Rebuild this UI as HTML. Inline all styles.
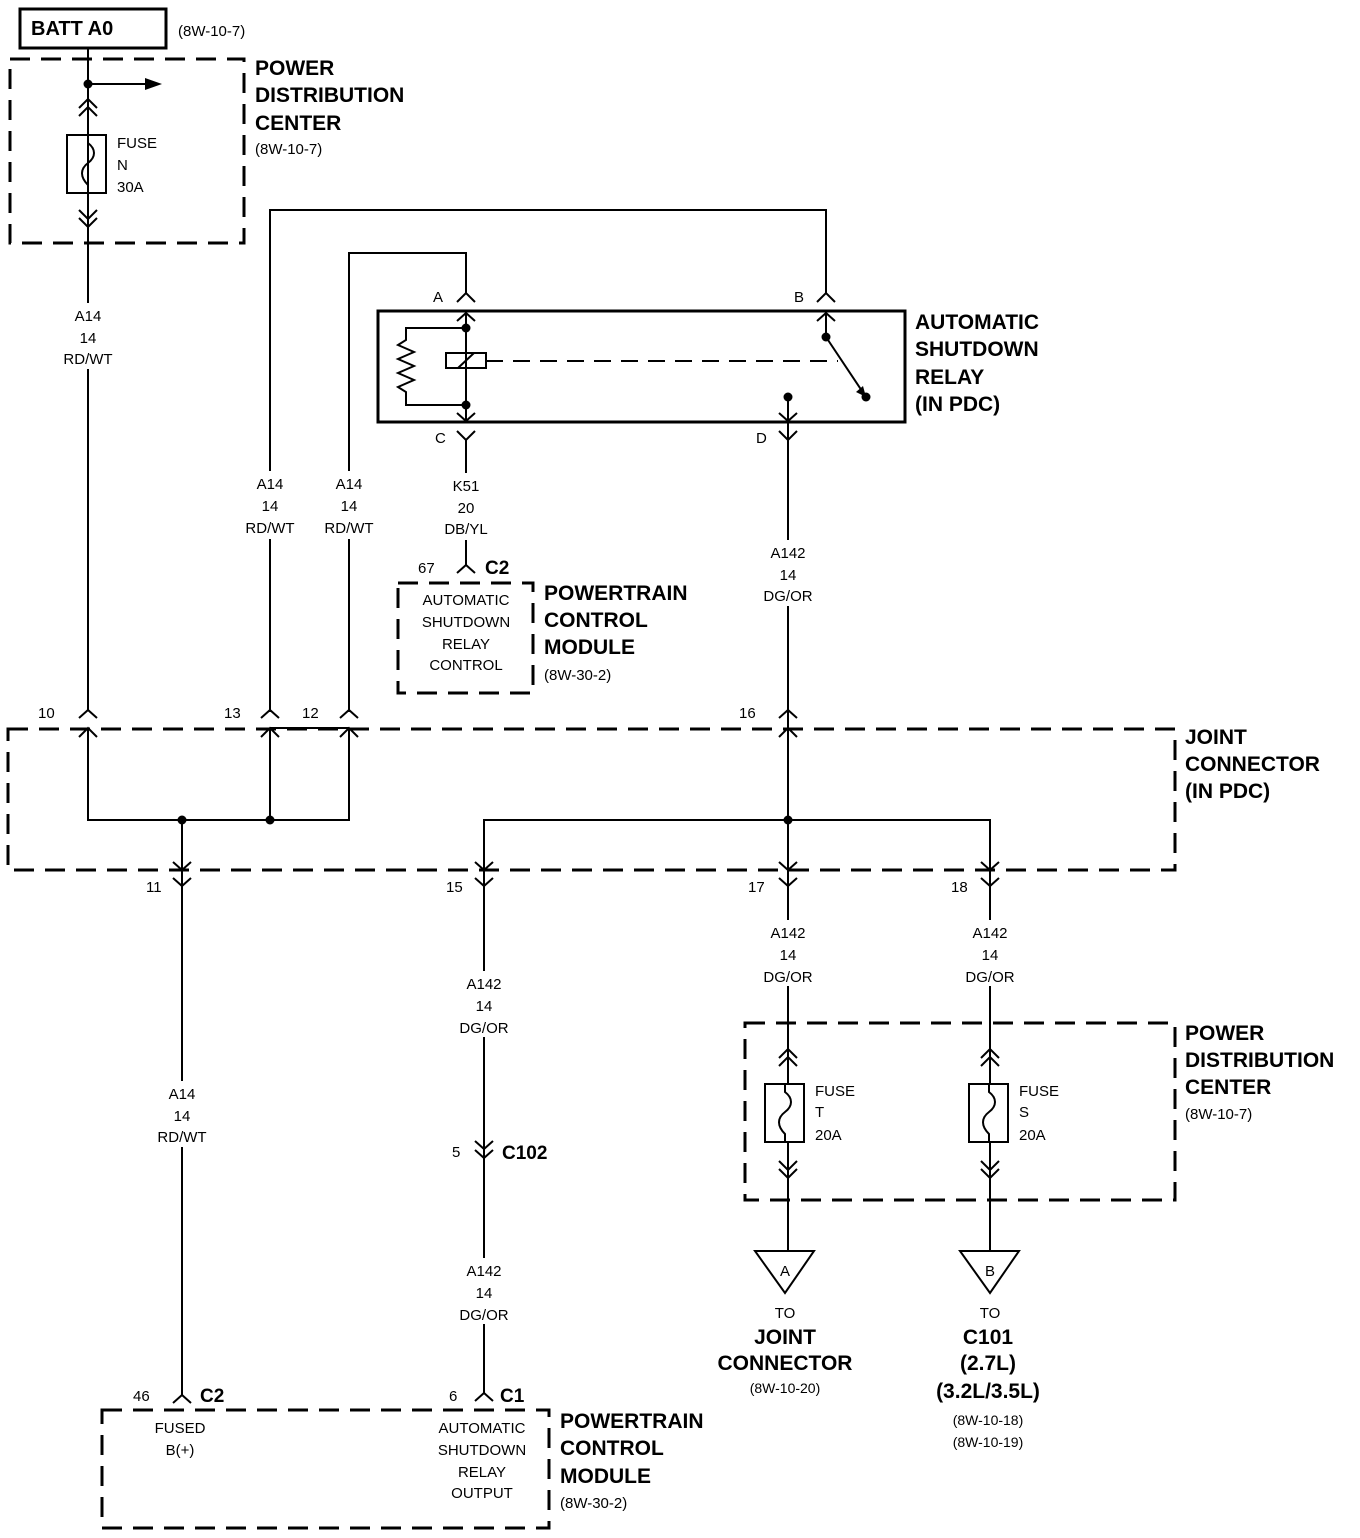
<!DOCTYPE html>
<html><head><meta charset="utf-8"><style>
html,body{margin:0;padding:0;background:#fff}
svg{display:block}
text{font-family:"Liberation Sans",sans-serif;fill:#000}
.s{font-size:15px}
.b{font-size:21px;font-weight:bold}
.m{font-size:14px}
</style></head><body>
<svg width="1360" height="1538" viewBox="0 0 1360 1538" xmlns="http://www.w3.org/2000/svg">
<g fill="none" stroke="#000" stroke-width="2">
<rect x="20" y="9" width="146" height="39" stroke-width="3"/>
<g stroke-width="3" stroke-dasharray="20 11">
<rect x="10" y="59" width="234" height="184"/>
<rect x="8" y="729" width="1167" height="141"/>
<rect x="398" y="583" width="135" height="110"/>
<rect x="745" y="1023" width="430" height="177"/>
<rect x="102" y="1410" width="447" height="118"/>
</g>
<rect x="378" y="311" width="527" height="111" stroke-width="3"/>
<path d="M88 48V710"/>
<path d="M88 84H145"/>
<path d="M79 108L88 99L97 108M79 116L88 107L97 116"/>
<rect x="67" y="135" width="39" height="58"/>
<path d="M88 135v8c8 6 8 14 0 20c-8 6-8 14 0 22v8"/>
<path d="M79 210L88 219L97 210M79 218L88 227L97 218"/>
<path d="M270 712V210H826V293"/>
<path d="M349 712V253H466V293"/>
<path d="M466 311V422"/>
<path d="M826 311V337L866 397"/>
<path d="M466 328H406V340l-8 5l16 7l-16 7l16 7l-16 7l16 7l-16 7l8 5V405H466"/>
<rect x="446" y="353" width="40" height="15"/>
<path d="M458 368L474 353"/>
<path d="M486 361H838" stroke-dasharray="17 10"/>
<path d="M788 397V886"/>
<path d="M457 302L466 293L475 302M457 321L466 313L475 321"/>
<path d="M817 302L826 293L835 302M817 321L826 313L835 321"/>
<path d="M457 413L466 421L475 413M457 431L466 440L475 431"/>
<path d="M779 413L788 421L797 413M779 431L788 440L797 431"/>
<path d="M466 440V565"/>
<path d="M457 573L466 565L475 573"/>
<path d="M79 718L88 710L97 718M79 737L88 728L97 737"/>
<path d="M261 718L270 710L279 718M261 737L270 728L279 737"/>
<path d="M340 718L349 710L358 718M340 737L349 728L358 737"/>
<path d="M779 718L788 710L797 718M779 737L788 728L797 737"/>
<path d="M270 728H349"/>
<path d="M88 728V820H349V728"/>
<path d="M270 728V820"/>
<path d="M182 820V1395"/>
<path d="M484 886V820H990V886"/>
<path d="M173 862L182 870L191 862M173 878L182 886L191 878"/>
<path d="M475 862L484 870L493 862M475 878L484 886L493 878"/>
<path d="M779 862L788 870L797 862M779 878L788 886L797 878"/>
<path d="M981 862L990 870L999 862M981 878L990 886L999 878"/>
<path d="M484 886V1393"/>
<path d="M475 1141L484 1149L493 1141M475 1150L484 1158L493 1150"/>
<path d="M173 1403L182 1395L191 1403"/>
<path d="M475 1401L484 1393L493 1401"/>
<path d="M990 886V1251"/>
<path d="M788 886V1251"/>
<path d="M779 1058L788 1049L797 1058M779 1066L788 1057L797 1066"/>
<path d="M981 1058L990 1049L999 1058M981 1066L990 1057L999 1066"/>
<rect x="765" y="1084" width="39" height="58" fill="#fff"/>
<rect x="969" y="1084" width="39" height="58" fill="#fff"/>
<path d="M785 1084v8c8 6 8 14 0 20c-8 6-8 14 0 22v8"/>
<path d="M989 1084v8c8 6 8 14 0 20c-8 6-8 14 0 22v8"/>
<path d="M779 1161L788 1170L797 1161M779 1169L788 1178L797 1169"/>
<path d="M981 1161L990 1170L999 1161M981 1169L990 1178L999 1169"/>
<path d="M755 1251H814L785 1293Z"/>
<path d="M960 1251H1019L990 1293Z"/>
</g>
<g fill="#000">
<path d="M145 78L162 84L145 90Z"/>
<circle cx="88" cy="84" r="4.5"/>
<circle cx="466" cy="328" r="4.5"/>
<circle cx="466" cy="405" r="4.5"/>
<circle cx="826" cy="337" r="4.5"/>
<circle cx="866" cy="397" r="4.5"/>
<circle cx="788" cy="397" r="4.5"/>
<path d="M856 392L866 397L863 386Z"/>
<circle cx="182" cy="820" r="4.5"/>
<circle cx="270" cy="820" r="4.5"/>
<circle cx="788" cy="820" r="4.5"/>
</g>
<!-- label gaps -->
<g fill="#fff">
<rect x="60" y="303" width="56" height="66"/>
<rect x="242" y="471" width="56" height="68"/>
<rect x="321" y="471" width="56" height="68"/>
<rect x="438" y="473" width="56" height="67"/>
<rect x="760" y="540" width="56" height="66"/>
<rect x="154" y="1081" width="56" height="66"/>
<rect x="456" y="971" width="56" height="66"/>
<rect x="456" y="1258" width="56" height="66"/>
<rect x="760" y="920" width="56" height="66"/>
<rect x="962" y="920" width="56" height="66"/>
</g>
<text x="31" y="35" class="b" style="font-size:20px">BATT A0</text>
<text x="178" y="36" class="s">(8W-10-7)</text>
<text x="255" y="75" class="b">POWER</text>
<text x="255" y="102" class="b">DISTRIBUTION</text>
<text x="255" y="130" class="b">CENTER</text>
<text x="255" y="154" class="s">(8W-10-7)</text>
<text x="117" y="148" class="s">FUSE</text>
<text x="117" y="170" class="s">N</text>
<text x="117" y="192" class="s">30A</text>
<g class="s" text-anchor="middle">
<text x="88" y="321">A14</text><text x="88" y="343">14</text><text x="88" y="364">RD/WT</text>
<text x="270" y="489">A14</text><text x="270" y="511">14</text><text x="270" y="533">RD/WT</text>
<text x="349" y="489">A14</text><text x="349" y="511">14</text><text x="349" y="533">RD/WT</text>
<text x="466" y="491">K51</text><text x="466" y="513">20</text><text x="466" y="534">DB/YL</text>
<text x="788" y="558">A142</text><text x="788" y="580">14</text><text x="788" y="601">DG/OR</text>
<text x="466" y="605">AUTOMATIC</text><text x="466" y="627">SHUTDOWN</text><text x="466" y="649">RELAY</text><text x="466" y="670">CONTROL</text>
<text x="182" y="1099">A14</text><text x="182" y="1121">14</text><text x="182" y="1142">RD/WT</text>
<text x="484" y="989">A142</text><text x="484" y="1011">14</text><text x="484" y="1033">DG/OR</text>
<text x="484" y="1276">A142</text><text x="484" y="1298">14</text><text x="484" y="1320">DG/OR</text>
<text x="788" y="938">A142</text><text x="788" y="960">14</text><text x="788" y="982">DG/OR</text>
<text x="990" y="938">A142</text><text x="990" y="960">14</text><text x="990" y="982">DG/OR</text>
<text x="785" y="1276">A</text><text x="990" y="1276">B</text>
<text x="785" y="1318">TO</text><text x="990" y="1318">TO</text>
<text x="785" y="1393" class="m">(8W-10-20)</text>
<text x="988" y="1425" class="m">(8W-10-18)</text><text x="988" y="1447" class="m">(8W-10-19)</text>
<text x="180" y="1433">FUSED</text><text x="180" y="1455">B(+)</text>
<text x="482" y="1433">AUTOMATIC</text><text x="482" y="1455">SHUTDOWN</text><text x="482" y="1477">RELAY</text><text x="482" y="1498">OUTPUT</text>
</g>
<g class="b" text-anchor="middle">
<text x="785" y="1344">JOINT</text><text x="785" y="1370">CONNECTOR</text>
<text x="988" y="1344">C101</text><text x="988" y="1370">(2.7L)</text><text x="988" y="1398">(3.2L/3.5L)</text>
</g>
<g class="s">
<text x="433" y="302">A</text><text x="794" y="302">B</text>
<text x="435" y="443">C</text><text x="756" y="443">D</text>
<text x="418" y="573">67</text>
<text x="38" y="718">10</text><text x="224" y="718">13</text><text x="302" y="718">12</text><text x="739" y="718">16</text>
<text x="146" y="892">11</text><text x="446" y="892">15</text><text x="748" y="892">17</text><text x="951" y="892">18</text>
<text x="452" y="1157">5</text>
<text x="815" y="1096">FUSE</text><text x="815" y="1117">T</text><text x="815" y="1140">20A</text>
<text x="1019" y="1096">FUSE</text><text x="1019" y="1117">S</text><text x="1019" y="1140">20A</text>
<text x="1185" y="1119">(8W-10-7)</text>
<text x="544" y="680">(8W-30-2)</text>
<text x="133" y="1401">46</text><text x="449" y="1401">6</text>
<text x="560" y="1508">(8W-30-2)</text>
</g>
<g class="b">
<text x="915" y="329">AUTOMATIC</text><text x="915" y="356">SHUTDOWN</text><text x="915" y="384">RELAY</text><text x="915" y="411">(IN PDC)</text>
<text x="485" y="574" style="font-size:19px">C2</text>
<text x="544" y="600">POWERTRAIN</text><text x="544" y="627">CONTROL</text><text x="544" y="654">MODULE</text>
<text x="1185" y="744">JOINT</text><text x="1185" y="771">CONNECTOR</text><text x="1185" y="798">(IN PDC)</text>
<text x="502" y="1159" style="font-size:19px">C102</text>
<text x="1185" y="1040">POWER</text><text x="1185" y="1067">DISTRIBUTION</text><text x="1185" y="1094">CENTER</text>
<text x="200" y="1402" style="font-size:19px">C2</text><text x="500" y="1402" style="font-size:19px">C1</text>
<text x="560" y="1428">POWERTRAIN</text><text x="560" y="1455">CONTROL</text><text x="560" y="1483">MODULE</text>
</g>
</svg>
</body></html>
